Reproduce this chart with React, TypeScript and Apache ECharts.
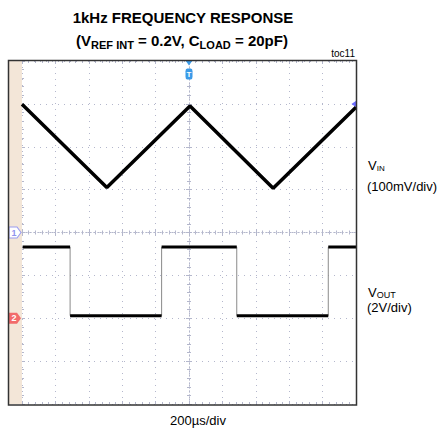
import React, { useEffect, useRef } from "react";
import * as echarts from "echarts";

// Screen in divisions: 10 horizontal (200µs/div), 8 vertical
const xRange = [-5, 5];
const yRange = [-4, 4];

// VIN triangle wave (divisions, 100mV/div)
const vinX = [-5, -2.46, 0.03, 2.52, 5];
const vinY = [2.99, 1.05, 2.95, 1.03, 2.92];

// VOUT square wave (divisions, 2V/div)
const voutX = [-4.98, -3.56, -3.56, -0.82, -0.82, 1.43, 1.43, 4.17, 4.17, 5];
const voutY = [-0.34, -0.34, -1.94, -1.94, -0.34, -0.34, -1.94, -1.94, -0.34, -0.34];

// channel ground markers
const ch1Level = 0;
const ch2Level = -2;
const triggerLevel = 3;

const FONT = "'Liberation Sans', Arial, sans-serif";
const GRID = "#b4b7cc";

export default function App() {
  const ref = useRef<HTMLDivElement>(null);

  useEffect(() => {
    if (!ref.current) return;
    const chart = echarts.init(ref.current, undefined, { renderer: "svg" });

    const vinData = vinX.map((x, i) => [x, vinY[i]]);
    const voutData = voutX.map((x, i) => [x, voutY[i]]);
    // flat segments (thick, black)
    const flats: number[][][] = [];
    for (let i = 0; i < voutX.length - 1; i++) {
      if (voutY[i] === voutY[i + 1]) {
        flats.push([
          [voutX[i], voutY[i]],
          [voutX[i + 1], voutY[i + 1]],
        ]);
      }
    }

    const baseX = {
      type: "value",
      min: xRange[0],
      max: xRange[1],
      interval: 1,
      axisLabel: { show: false },
      splitLine: { show: false },
      axisLine: { show: false, onZero: false },
      axisTick: { show: true, inside: true, length: 3, lineStyle: { color: GRID } },
      minorTick: { show: true, splitNumber: 5, length: 2, lineStyle: { color: GRID } },
    };
    const baseY = {
      type: "value",
      min: yRange[0],
      max: yRange[1],
      interval: 1,
      axisLabel: { show: false },
      splitLine: { show: false },
      axisLine: { show: false, onZero: false },
      axisTick: { show: true, inside: true, length: 3, lineStyle: { color: GRID } },
      minorTick: { show: true, splitNumber: 5, length: 2, lineStyle: { color: GRID } },
    };

    const centerLine = { show: true, onZero: true, lineStyle: { color: GRID, type: [1, 3], width: 1 } };

    const series: any[] = [
      {
        type: "line",
        data: vinData,
        showSymbol: false,
        lineStyle: { color: "#000", width: 3.5 },
        z: 5,
        markPoint: {
          silent: true,
          data: [
            {
              coord: [xRange[0], ch1Level],
              symbol: "path://M0,0 L8,0 L12,5 L8,10 L0,10 Z",
              symbolSize: [12, 11],
              symbolOffset: [-7, 0],
              itemStyle: { color: "#ffffff", borderColor: "#9a9cf0", borderWidth: 1 },
              label: { show: true, formatter: "1", color: "#8f92ee", fontSize: 9, fontWeight: "bold", fontFamily: FONT, offset: [-1, 0] },
            },
            {
              coord: [xRange[0], ch2Level],
              symbol: "path://M0,0 L8,0 L12,5 L8,10 L0,10 Z",
              symbolSize: [12, 11],
              symbolOffset: [-7, 0],
              itemStyle: { color: "#f26b6b" },
              label: { show: true, formatter: "2", color: "#ffffff", fontSize: 9, fontWeight: "bold", fontFamily: FONT, offset: [-1, 0] },
            },
            {
              coord: [0, yRange[1]],
              symbol: "triangle",
              symbolRotate: 180,
              symbolSize: [7, 5],
              symbolOffset: [0, 2],
              itemStyle: { color: "#3a9ae8" },
              label: { show: false },
            },
            {
              coord: [0, yRange[1]],
              symbol: "roundRect",
              symbolSize: [7, 11],
              symbolOffset: [0, 13],
              itemStyle: { color: "#3a9ae8" },
              label: { show: true, formatter: "T", color: "#ffffff", fontSize: 8, fontWeight: "bold", fontFamily: FONT },
            },
            {
              coord: [xRange[1], triggerLevel],
              symbol: "triangle",
              symbolRotate: 90,
              symbolSize: [7, 5],
              symbolOffset: [-2, 0],
              itemStyle: { color: "#6b6bff" },
              label: { show: false },
            },
          ],
        },
      },
      {
        type: "line",
        data: voutData,
        showSymbol: false,
        lineStyle: { color: "#8a8a8a", width: 1 },
        z: 4,
      },
      ...flats.map((seg) => ({
        type: "line",
        data: seg,
        showSymbol: false,
        lineStyle: { color: "#000", width: 3 },
        z: 5,
      })),
    ];

    chart.setOption({
      animation: false,
      grid: { left: 22, top: 61, width: 334, height: 343, containLabel: false },
      xAxis: [
        {
          ...baseX,
          position: "bottom",
          splitLine: { show: true, lineStyle: { color: GRID, type: [1, 5], width: 1 } },
        },
        { ...baseX, position: "top" },
        { ...baseX, position: "bottom", axisLine: centerLine },
        { ...baseX, position: "top", axisLine: centerLine },
      ],
      yAxis: [
        {
          ...baseY,
          position: "left",
          splitLine: { show: true, lineStyle: { color: GRID, type: [1, 5], width: 1 } },
        },
        { ...baseY, position: "left", axisLine: centerLine },
        { ...baseY, position: "right", axisLine: centerLine },
      ],
      series,
      graphic: [
        {
          type: "rect",
          shape: { x: 9, y: 61, width: 13, height: 343 },
          style: { fill: "#f3e6d8" },
          z: 0,
          silent: true,
        },
        {
          type: "rect",
          shape: { x: 8.5, y: 60.5, width: 348, height: 344.5 },
          style: { fill: "none", stroke: "#333333", lineWidth: 1.5 },
          z: 100,
          silent: true,
        },
        {
          type: "text",
          style: {
            text: "1kHz FREQUENCY RESPONSE",
            x: 183,
            y: 17,
            align: "center",
            verticalAlign: "middle",
            font: `bold 15px ${FONT}`,
            fill: "#000",
          },
        },
        {
          type: "text",
          style: {
            text: "(V{s|REF INT} = 0.2V, C{s|LOAD} = 20pF)",
            x: 182,
            y: 40,
            align: "center",
            verticalAlign: "middle",
            font: `bold 15px ${FONT}`,
            fill: "#000",
            rich: {
              s: { font: `bold 11px ${FONT}`, fill: "#000", padding: [9, 0, 0, 0] },
            },
          },
        },
        {
          type: "text",
          style: {
            text: "toc11",
            x: 355,
            y: 53,
            align: "right",
            verticalAlign: "middle",
            font: `10px ${FONT}`,
            fill: "#000",
          },
        },
        {
          type: "text",
          style: {
            text: "V{s|IN}",
            x: 368,
            y: 165,
            align: "left",
            verticalAlign: "middle",
            font: `13px ${FONT}`,
            fill: "#000",
            rich: { s: { font: `8px ${FONT}`, fill: "#000", padding: [6, 0, 0, 0] } },
          },
        },
        {
          type: "text",
          style: {
            text: "(100mV/div)",
            x: 367,
            y: 186,
            align: "left",
            verticalAlign: "middle",
            font: `13px ${FONT}`,
            fill: "#000",
          },
        },
        {
          type: "text",
          style: {
            text: "V{s|OUT}",
            x: 368,
            y: 292,
            align: "left",
            verticalAlign: "middle",
            font: `13px ${FONT}`,
            fill: "#000",
            rich: { s: { font: `9px ${FONT}`, fill: "#000", padding: [6, 0, 0, 0] } },
          },
        },
        {
          type: "text",
          style: {
            text: "(2V/div)",
            x: 367,
            y: 307,
            align: "left",
            verticalAlign: "middle",
            font: `13px ${FONT}`,
            fill: "#000",
          },
        },
        {
          type: "text",
          style: {
            text: "200µs/div",
            x: 198,
            y: 420,
            align: "center",
            verticalAlign: "middle",
            font: `13px ${FONT}`,
            fill: "#000",
          },
        },
      ],
    });

    return () => chart.dispose();
  }, []);

  return (
    <div
      ref={ref}
      style={{ position: "fixed", left: 0, top: 0, width: 440, height: 432, background: "#fff" }}
    />
  );
}
